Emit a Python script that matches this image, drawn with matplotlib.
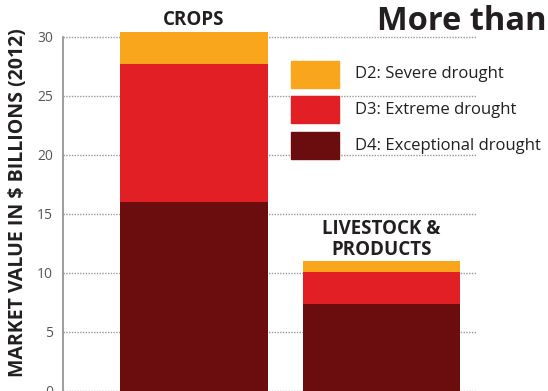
import matplotlib.pyplot as plt
import matplotlib.patches as mpatches

# Valeurs (milliards de $)
categories = ["CROPS", "LIVESTOCK &\nPRODUCTS"]
d4_exceptional = [16.0, 7.4]
d3_extreme = [11.7, 2.7]
d2_severe = [2.7, 0.9]
y_ticks = [0, 5, 10, 15, 20, 25, 30]

couleurs = {"D2": "#F9A61C", "D3": "#E31F26", "D4": "#6B0D0F"}
police = "Open Sans"

fig = plt.figure(figsize=(5.48, 3.91), dpi=100)
ax = fig.add_axes([63 / 548, 0.0, 414 / 548, 1.0])

positions = [131, 318.5]
largeurs = [148, 157]

ax.bar(positions, d4_exceptional, width=largeurs, color=couleurs["D4"], zorder=3)
bas = d4_exceptional
ax.bar(positions, d3_extreme, width=largeurs, bottom=bas, color=couleurs["D3"], zorder=3)
bas = [a + b for a, b in zip(d4_exceptional, d3_extreme)]
ax.bar(positions, d2_severe, width=largeurs, bottom=bas, color=couleurs["D2"], zorder=3)
totaux = [a + b for a, b in zip(bas, d2_severe)]

ax.set_xlim(0, 414)
ax.set_ylim(0, 33.1)
ax.set_xticks([])
ax.set_yticks(y_ticks)
ax.set_yticklabels([str(t) for t in y_ticks], family=police, fontsize=10, color="#555555")
ax.tick_params(axis="y", length=0, pad=7)
ax.yaxis.grid(True, linestyle=(0, (1, 1)), color="#999999", linewidth=1.0, zorder=0)

for cote in ["top", "right", "bottom"]:
    ax.spines[cote].set_visible(False)
ax.spines["left"].set_color("#8C8C8C")
ax.spines["left"].set_linewidth(1.2)
ax.spines["left"].set_bounds(0, 30)
ax.patch.set_alpha(0)

# Etiquettes au-dessus des barres
ax.text(positions[0], totaux[0] + 0.2, categories[0], ha="center", va="bottom",
        family=police, fontweight="bold", fontsize=13.5, color="#231F20")
ax.text(positions[1], totaux[1] + 0.05, categories[1], ha="center", va="bottom",
        family=police, fontweight="bold", fontsize=13.5, color="#231F20", linespacing=1.1)

fig.text(18 / 548, 1 - 203 / 391, "MARKET VALUE IN $ BILLIONS (2012)", rotation=90, ha="center",
         va="center", family=police, fontweight="bold", fontsize=14, color="#231F20")

fig.text(377 / 548, 1 - 21 / 391, "More than", ha="left", va="center",
         family=police, fontweight="bold", fontsize=23.5, color="#231F20")

# Légende
legende = [("D2: Severe drought", couleurs["D2"], 61),
           ("D3: Extreme drought", couleurs["D3"], 96),
           ("D4: Exceptional drought", couleurs["D4"], 132)]
for texte, couleur, y in legende:
    fig.patches.append(mpatches.Rectangle((291 / 548, 1 - (y + 27) / 391), 48 / 548, 27 / 391,
                                          transform=fig.transFigure, color=couleur))
    fig.text(355 / 548, 1 - (y + 13.5) / 391, texte, ha="left", va="center",
             family=police, fontsize=12, color="#231F20")

fig.savefig("out.png", dpi=100)
